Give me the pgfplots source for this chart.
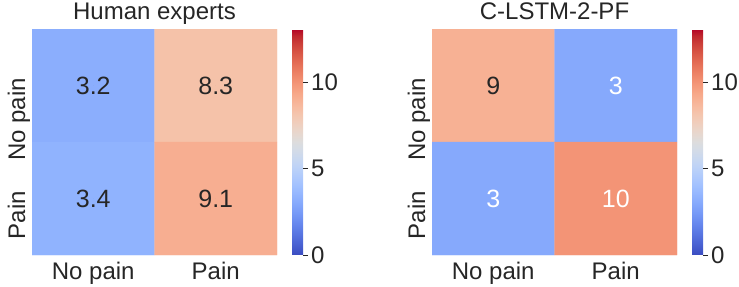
\documentclass[border=0pt]{standalone}
\usepackage{fontspec}
\setmainfont{Liberation Sans}
\usepackage{pgfplots}
\pgfplotsset{compat=1.18}
\definecolor{txt}{HTML}{262626}
\newcommand\tfont{\fontsize{24bp}{28bp}\selectfont}
\newcommand\afont{\fontsize{25bp}{29bp}\selectfont}
\pgfplotsset{
  colormap={coolwarm}{
    rgb=(0.2298,0.2987,0.7537) rgb=(0.2662,0.3531,0.8015) rgb=(0.3039,0.4065,0.8450)
    rgb=(0.3428,0.4588,0.8837) rgb=(0.3830,0.5094,0.9174) rgb=(0.4244,0.5581,0.9456)
    rgb=(0.4667,0.6046,0.9682) rgb=(0.5096,0.6483,0.9848) rgb=(0.5530,0.6889,0.9954)
    rgb=(0.5963,0.7261,0.9998) rgb=(0.6392,0.7596,0.9982) rgb=(0.6813,0.7890,0.9904)
    rgb=(0.7222,0.8140,0.9766) rgb=(0.7615,0.8343,0.9569) rgb=(0.7987,0.8498,0.9317)
    rgb=(0.8335,0.8602,0.9011) rgb=(0.8654,0.8654,0.8654) rgb=(0.8978,0.8489,0.8209)
    rgb=(0.9241,0.8274,0.7745) rgb=(0.9445,0.8009,0.7267) rgb=(0.9589,0.7698,0.6780)
    rgb=(0.9673,0.7341,0.6288) rgb=(0.9700,0.6943,0.5794) rgb=(0.9668,0.6504,0.5303)
    rgb=(0.9580,0.6028,0.4818) rgb=(0.9437,0.5518,0.4342) rgb=(0.9239,0.4973,0.3880)
    rgb=(0.8990,0.4396,0.3432) rgb=(0.8692,0.3783,0.3003) rgb=(0.8346,0.3129,0.2593)
    rgb=(0.7956,0.2413,0.2205) rgb=(0.7525,0.1572,0.1841) rgb=(0.7057,0.0156,0.1502)
  },
  hm/.style={
    colormap name=coolwarm,
    scale only axis, width=245bp, height=226bp,
    anchor=south west,
    xmin=-0.5, xmax=1.5, ymin=-0.5, ymax=1.5, y dir=reverse,
    xtick={0,1}, ytick={0,1},
    xticklabels={No pain,Pain}, yticklabels={No pain,Pain},
    axis line style={draw=none}, major tick length=0pt,
    tick label style={font=\tfont, text=txt},
    xticklabel style={inner ysep=7bp},
    yticklabel style={xshift=-7bp, yshift=7.5bp, rotate=90, anchor=base east, inner xsep=0pt},
    every axis title/.style={at={(0.5,1)}, anchor=base, yshift=10bp, font=\tfont, text=txt},
    point meta min=0, point meta max=13.1,
    colorbar,
    colorbar shift/.style={xshift=15bp},
    colorbar style={
      at={(parent axis.north east)}, anchor=north west,
      scale only axis, width=11bp, height=226bp,
      axis line style={draw=none},
      ytick={0,5,10}, ytick pos=right, yticklabel pos=right,
      tick align=outside, major tick length=5bp,
      ytick style={draw=txt, line width=0.9bp},
      yticklabel style={font=\tfont, text=txt, inner xsep=3bp,
        /pgf/number format/assume math mode=true},
    },
  },
  ann/.style={only marks, mark=*, mark size=0pt, mark options={draw=none, fill=none},
    nodes near coords, nodes near coords align={center},
    point meta=explicit symbolic,
    every node near coord/.append style={font=\afont, text=#1, anchor=center}},
}
\begin{document}
\begin{tikzpicture}
\useasboundingbox (0,0) rectangle (739bp,287bp);
\begin{axis}[hm, at={(32bp,32bp)}, title={Human experts}]
\addplot[matrix plot*, mesh/cols=2, point meta=explicit] table[meta=c] {
x y c
0 0 3.2
1 0 8.3
0 1 3.4
1 1 9.1
};
\addplot[ann=txt] table[meta=t] {
x y t
0 0 3.2
1 0 8.3
0 1 3.4
1 1 9.1
};
\end{axis}
\begin{axis}[hm, at={(432bp,32bp)}, title={C-LSTM-2-PF}]
\addplot[matrix plot*, mesh/cols=2, point meta=explicit] table[meta=c] {
x y c
0 0 9
1 0 3
0 1 3
1 1 10
};
\addplot[ann=txt] table[meta=t] {
x y t
0 0 9
};
\addplot[ann=white] table[meta=t] {
x y t
1 0 3
0 1 3
1 1 10
};
\end{axis}
\end{tikzpicture}
\end{document}
